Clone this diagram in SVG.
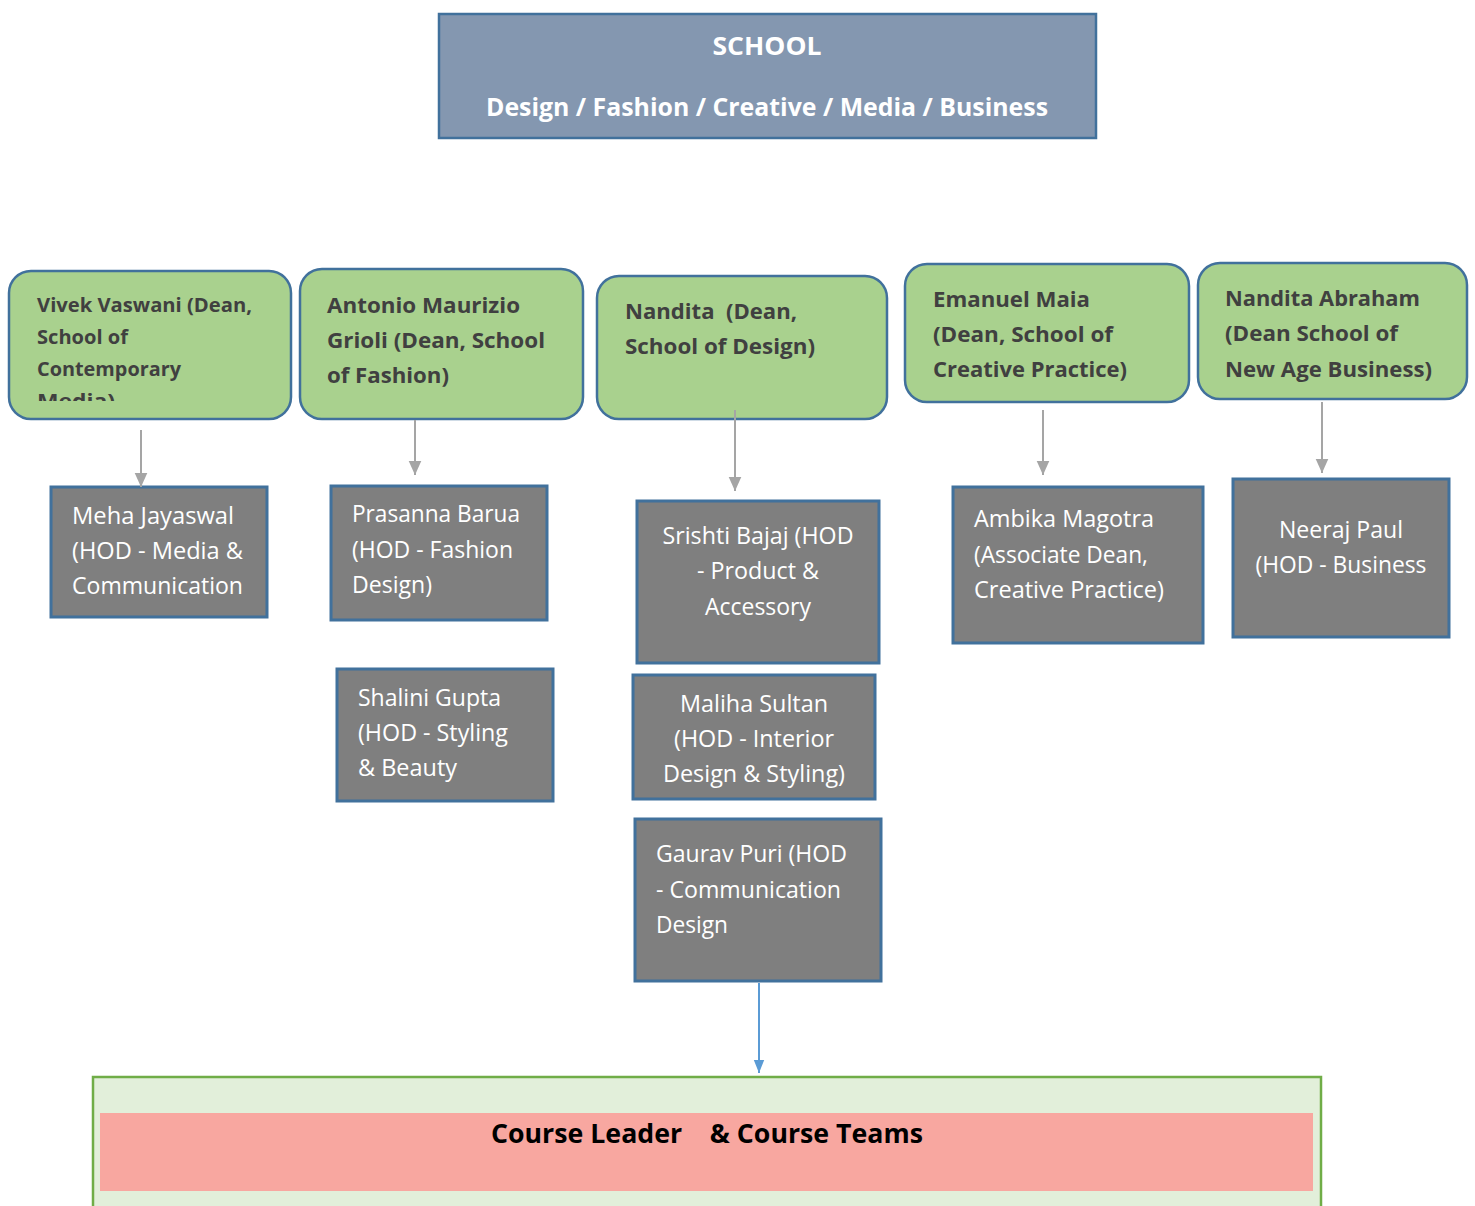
<svg xmlns="http://www.w3.org/2000/svg" width="1475" height="1206" viewBox="0 0 1475 1206">
<style>
.top{fill:#8497b0;stroke:#41719c;stroke-width:2.5}
.dean{fill:#a9d18e;stroke:#41719c;stroke-width:2.5}
.hod{fill:#7f7f7f;stroke:#41719c;stroke-width:3}
.tw{font-family:"Open Sans","Liberation Sans",sans-serif;fill:#ffffff;font-size:23px}
.tb{font-family:"Open Sans","Liberation Sans",sans-serif;font-weight:bold;fill:#404040;font-size:22px}
.th{font-family:"Open Sans","Liberation Sans",sans-serif;font-weight:bold;fill:#ffffff;font-size:25px}
.conn{stroke:#a5a5a5;stroke-width:2;fill:none}
</style>
<defs>
<marker id="ag" viewBox="0 0 10 10" refX="10" refY="5" markerWidth="14" markerHeight="14" markerUnits="userSpaceOnUse" orient="auto"><path d="M0,0.5 L10,5 L0,9.5 z" fill="#a5a5a5"/></marker>
<marker id="ab" viewBox="0 0 10 10" refX="10" refY="5" markerWidth="14" markerHeight="13" markerUnits="userSpaceOnUse" orient="auto"><path d="M0,1 L10,5 L0,9 z" fill="#5b9bd5"/></marker>
<clipPath id="c1"><rect x="9" y="271" width="282" height="130"/></clipPath>
</defs>

<g id="school">
<rect class="top" x="439" y="14" width="657" height="124"/>
<text class="th" x="767" y="55" text-anchor="middle" textLength="109" lengthAdjust="spacingAndGlyphs">SCHOOL</text>
<text class="th" x="767" y="116" text-anchor="middle" textLength="562" lengthAdjust="spacingAndGlyphs">Design / Fashion / Creative / Media / Business</text>
</g>

<g id="dean-vivek">
<rect class="dean" x="9" y="271" width="282" height="148" rx="22"/>
<g clip-path="url(#c1)">
<text class="tb" style="font-size:20px" x="37" y="312" textLength="215" lengthAdjust="spacingAndGlyphs">Vivek Vaswani (Dean,</text>
<text class="tb" style="font-size:20px" x="37" y="344" textLength="91" lengthAdjust="spacingAndGlyphs">School of</text>
<text class="tb" style="font-size:20px" x="37" y="376" textLength="144" lengthAdjust="spacingAndGlyphs">Contemporary</text>
<text class="tb" style="font-size:20px" x="37" y="408" textLength="78" lengthAdjust="spacingAndGlyphs">Media)</text>
</g>
</g>

<g id="dean-antonio">
<rect class="dean" x="300" y="269" width="283" height="150" rx="22"/>
<text class="tb" x="327" y="313" textLength="193" lengthAdjust="spacingAndGlyphs">Antonio Maurizio</text>
<text class="tb" x="327" y="348" textLength="218" lengthAdjust="spacingAndGlyphs">Grioli (Dean, School</text>
<text class="tb" x="327" y="383" textLength="122" lengthAdjust="spacingAndGlyphs">of Fashion)</text>
</g>

<g id="dean-nandita">
<rect class="dean" x="597" y="276" width="290" height="143" rx="22"/>
<text class="tb" x="625" y="319" textLength="172" lengthAdjust="spacingAndGlyphs" xml:space="preserve">Nandita  (Dean,</text>
<text class="tb" x="625" y="354" textLength="190" lengthAdjust="spacingAndGlyphs">School of Design)</text>
</g>

<g id="dean-emanuel">
<rect class="dean" x="905" y="264" width="284" height="138" rx="22"/>
<text class="tb" x="933" y="307" textLength="157" lengthAdjust="spacingAndGlyphs">Emanuel Maia</text>
<text class="tb" x="933" y="342" textLength="180" lengthAdjust="spacingAndGlyphs">(Dean, School of</text>
<text class="tb" x="933" y="377" textLength="194" lengthAdjust="spacingAndGlyphs">Creative Practice)</text>
</g>

<g id="dean-abraham">
<rect class="dean" x="1198" y="263" width="269" height="136" rx="22"/>
<text class="tb" x="1225" y="306" textLength="195" lengthAdjust="spacingAndGlyphs">Nandita Abraham</text>
<text class="tb" x="1225" y="341" textLength="173" lengthAdjust="spacingAndGlyphs">(Dean School of</text>
<text class="tb" x="1225" y="377" textLength="207" lengthAdjust="spacingAndGlyphs">New Age Business)</text>
</g>

<g id="hod-meha">
<rect class="hod" x="51" y="487" width="216" height="130"/>
<text class="tw" x="72" y="524" textLength="162" lengthAdjust="spacingAndGlyphs">Meha Jayaswal</text>
<text class="tw" x="72" y="559" textLength="171" lengthAdjust="spacingAndGlyphs">(HOD - Media &amp;</text>
<text class="tw" x="72" y="594" textLength="171" lengthAdjust="spacingAndGlyphs">Communication</text>
</g>

<g id="hod-prasanna">
<rect class="hod" x="331" y="486" width="216" height="134"/>
<text class="tw" x="352" y="522" textLength="168" lengthAdjust="spacingAndGlyphs">Prasanna Barua</text>
<text class="tw" x="352" y="558" textLength="161" lengthAdjust="spacingAndGlyphs">(HOD - Fashion</text>
<text class="tw" x="352" y="593" textLength="80" lengthAdjust="spacingAndGlyphs">Design)</text>
</g>

<g id="hod-shalini">
<rect class="hod" x="337" y="669" width="216" height="132"/>
<text class="tw" x="358" y="706" textLength="143" lengthAdjust="spacingAndGlyphs">Shalini Gupta</text>
<text class="tw" x="358" y="741" textLength="150" lengthAdjust="spacingAndGlyphs">(HOD - Styling</text>
<text class="tw" x="358" y="776" textLength="99" lengthAdjust="spacingAndGlyphs">&amp; Beauty</text>
</g>

<g id="hod-srishti">
<rect class="hod" x="637" y="501" width="242" height="162"/>
<text class="tw" x="758" y="544" text-anchor="middle" textLength="191" lengthAdjust="spacingAndGlyphs">Srishti Bajaj (HOD</text>
<text class="tw" x="758" y="579" text-anchor="middle" textLength="122" lengthAdjust="spacingAndGlyphs">- Product &amp;</text>
<text class="tw" x="758" y="615" text-anchor="middle" textLength="106" lengthAdjust="spacingAndGlyphs">Accessory</text>
</g>

<g id="hod-maliha">
<rect class="hod" x="633" y="675" width="242" height="124"/>
<text class="tw" x="754" y="712" text-anchor="middle" textLength="148" lengthAdjust="spacingAndGlyphs">Maliha Sultan</text>
<text class="tw" x="754" y="747" text-anchor="middle" textLength="160" lengthAdjust="spacingAndGlyphs">(HOD - Interior</text>
<text class="tw" x="754" y="782" text-anchor="middle" textLength="182" lengthAdjust="spacingAndGlyphs">Design &amp; Styling)</text>
</g>

<g id="hod-gaurav">
<rect class="hod" x="635" y="819" width="246" height="162"/>
<text class="tw" x="656" y="862" textLength="191" lengthAdjust="spacingAndGlyphs">Gaurav Puri (HOD</text>
<text class="tw" x="656" y="898" textLength="185" lengthAdjust="spacingAndGlyphs">- Communication</text>
<text class="tw" x="656" y="933" textLength="72" lengthAdjust="spacingAndGlyphs">Design</text>
</g>

<g id="assoc-ambika">
<rect class="hod" x="953" y="487" width="250" height="156"/>
<text class="tw" x="974" y="527" textLength="180" lengthAdjust="spacingAndGlyphs">Ambika Magotra</text>
<text class="tw" x="974" y="563" textLength="174" lengthAdjust="spacingAndGlyphs">(Associate Dean,</text>
<text class="tw" x="974" y="598" textLength="190" lengthAdjust="spacingAndGlyphs">Creative Practice)</text>
</g>

<g id="hod-neeraj">
<rect class="hod" x="1233" y="479" width="216" height="158"/>
<text class="tw" x="1341" y="538" text-anchor="middle" textLength="124" lengthAdjust="spacingAndGlyphs">Neeraj Paul</text>
<text class="tw" x="1341" y="573" text-anchor="middle" textLength="171" lengthAdjust="spacingAndGlyphs">(HOD - Business</text>
</g>

<g id="course-teams">
<rect x="93" y="1077" width="1228" height="140" fill="#e2efda" stroke="#70ad47" stroke-width="2.5"/>
<rect x="100" y="1113" width="1213" height="78" fill="#f8a7a0"/>
<text x="707" y="1143" text-anchor="middle" font-family="'Open Sans','Liberation Sans',sans-serif" font-weight="bold" font-size="27" fill="#000000" textLength="432" lengthAdjust="spacingAndGlyphs" xml:space="preserve">Course Leader    &amp; Course Teams</text>
</g>

<g id="connectors">
<line class="conn" x1="141" y1="430" x2="141" y2="487" marker-end="url(#ag)"/>
<line class="conn" x1="415" y1="420" x2="415" y2="475" marker-end="url(#ag)"/>
<line class="conn" x1="735" y1="410" x2="735" y2="491" marker-end="url(#ag)"/>
<line class="conn" x1="1043" y1="410" x2="1043" y2="475" marker-end="url(#ag)"/>
<line class="conn" x1="1322" y1="402" x2="1322" y2="473" marker-end="url(#ag)"/>
<line x1="759" y1="983" x2="759" y2="1073" stroke="#5b9bd5" stroke-width="2" marker-end="url(#ab)"/>
</g>
</svg>
